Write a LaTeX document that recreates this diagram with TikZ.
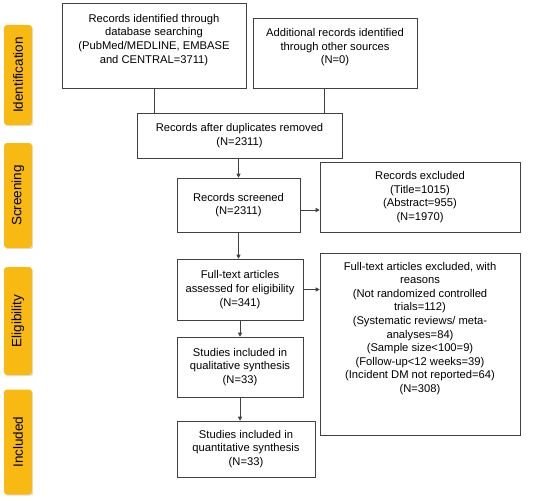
\documentclass[tikz,border=0pt]{standalone}
\usepackage{fontspec}
\setmainfont{Liberation Sans}
\usetikzlibrary{arrows.meta,shadows}
\definecolor{stagegold}{RGB}{248,186,18}
\begin{document}
\begin{tikzpicture}[x=1pt,y=-1pt,
  box/.style={draw=black!75,line width=0.6pt,align=center,inner sep=2pt,font=\fontsize{11.2}{13.6}\selectfont},
  stage/.style={fill=stagegold,rounded corners=3pt,rotate=90,minimum height=28pt,inner sep=0pt,
    font=\fontsize{13.5}{16}\selectfont,drop shadow={shadow xshift=1.2pt,shadow yshift=-1.2pt,fill=black!25}},
  link/.style={draw=black!75,line width=0.6pt},
  arr/.style={link,-{Triangle[length=4pt,width=4pt]}}]
\useasboundingbox (0,0) rectangle (545,500);
\node[stage,minimum width=100pt] (ident) at (18,75) {Identification};
\node[stage,minimum width=105pt] (screen) at (18,195.5) {Screening};
\node[stage,minimum width=108pt] (elig) at (18,321) {Eligibility};
\node[stage,minimum width=105pt] (incl) at (18,442) {Included};
\node[box,minimum width=184pt,minimum height=85pt] (search) at (154,45.5)
  {Records identified through\\database searching\\(PubMed/MEDLINE, EMBASE\\and CENTRAL=3711)\\\mbox{}};
\node[box,minimum width=164pt,minimum height=70pt] (other) at (335,53)
  {Additional records identified\\through other sources\\(N=0)\\\mbox{}};
\node[box,minimum width=205pt,minimum height=45pt] (dedup) at (239.5,135.5)
  {Records after duplicates removed\\(N=2311)};
\node[box,minimum width=123pt,minimum height=54pt] (screened) at (238.5,205)
  {Records screened\\(N=2311)};
\node[box,minimum width=200pt,minimum height=70pt] (excl) at (420,197)
  {Records excluded\\(Title=1015)\\(Abstract=955)\\(N=1970)};
\node[box,minimum width=126pt,minimum height=61pt] (fulltext) at (240,289.5)
  {Full-text articles\\assessed for eligibility\\(N=341)};
\node[box,minimum width=200pt,minimum height=182pt] (reasons) at (420,344)
  {Full-text articles excluded, with\\reasons\\(Not randomized controlled\\trials=112)\\(Systematic reviews/ meta-\\analyses=84)\\(Sample size<100=9)\\(Follow-up<12 weeks=39)\\(Incident DM not reported=64)\\(N=308)\\[20pt]\mbox{}};
\node[box,minimum width=126pt,minimum height=60pt] (quali) at (240,367)
  {Studies included in\\qualitative synthesis\\(N=33)};
\node[box,minimum width=138pt,minimum height=56pt] (quanti) at (246,449)
  {Studies included in\\quantitative synthesis\\(N=33)};
\draw[link] (search.south) -- (search.south |- dedup.north);
\draw[link] ([xshift=-11pt]other.south) -- ([xshift=-11pt]other.south |- dedup.north);
\draw[arr] (screened.north |- dedup.south) -- (screened.north);
\draw[arr] ([yshift=-5pt]screened.east) -- ([yshift=-5pt]screened.east -| excl.west);
\draw[arr] (screened.south) -- (screened.south |- fulltext.north);
\draw[arr] (fulltext.east) -- (fulltext.east -| reasons.west);
\draw[arr] (fulltext.south) -- (quali.north);
\draw[arr] (quali.south) -- (quali.south |- quanti.north);
\end{tikzpicture}
\end{document}
